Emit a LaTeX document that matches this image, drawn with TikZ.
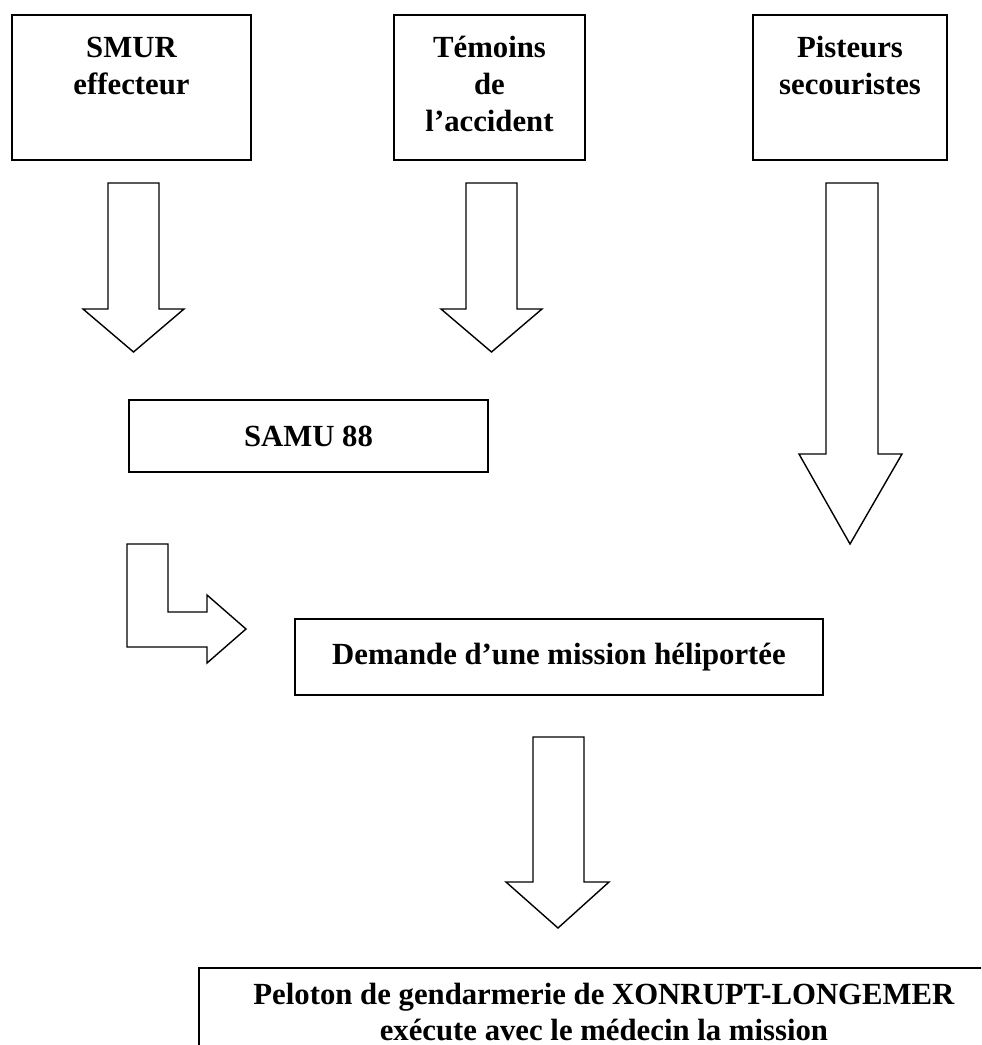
\documentclass[tikz,border=0pt]{standalone}
\usepackage{fontspec}
\setmainfont{Liberation Serif}
\usepackage{tikz}
\usetikzlibrary{positioning}

\begin{document}
\begin{tikzpicture}[x=0.02cm, y=-0.02cm,
  box/.style={draw, line width=1.1pt, align=center,
    font=\bfseries\fontsize{17.5}{21}\selectfont},
  srcbox/.style={box, anchor=north, inner xsep=0pt, inner ysep=6pt,
    text height=18.4pt, text depth=52.1pt},
  blk/.style={draw, line width=0.8pt}]
\useasboundingbox (0,0) rectangle (981,1045);
\clip (0,0) rectangle (981,1045);
% sources
\node[srcbox, text width=4.78cm] (smur) at (131.5,14) {SMUR\\effecteur};
\node[srcbox, text width=3.82cm] (temoins) at (489.5,14) {Témoins\\de\\l’accident};
\node[srcbox, text width=3.88cm] (pisteurs) at (850,14) {Pisteurs\\secouristes};
% regulation
\node[box, minimum width=7.18cm, minimum height=1.44cm] (samu) at (308.5,436) {SAMU 88};
\node[box, minimum width=10.56cm, minimum height=1.52cm] (demande) at (559,657) {Demande d’une mission héliportée};
\node[box, anchor=north west, minimum width=16.2cm, minimum height=1.76cm] (peloton) at (198,967)
  {Peloton de gendarmerie de XONRUPT-LONGEMER\\exécute avec le médecin la mission};
% block arrows
\draw[blk] (108,183) -- (159,183) -- (159,309) -- (184,309) -- (133.5,352) -- (83,309) -- (108,309) -- cycle;
\draw[blk] (466,183) -- (517,183) -- (517,309) -- (542,309) -- (491.5,352) -- (441,309) -- (466,309) -- cycle;
\draw[blk] (826,183) -- (878,183) -- (878,454) -- (902,454) -- (850,544) -- (799,454) -- (826,454) -- cycle;
\draw[blk] (127,544) -- (168,544) -- (168,612) -- (207,612) -- (207,595) -- (246,629) -- (207,663) -- (207,647) -- (127,647) -- cycle;
\draw[blk] (533,737) -- (584,737) -- (584,882) -- (609,882) -- (558,928) -- (506,882) -- (533,882) -- cycle;
\end{tikzpicture}
\end{document}
